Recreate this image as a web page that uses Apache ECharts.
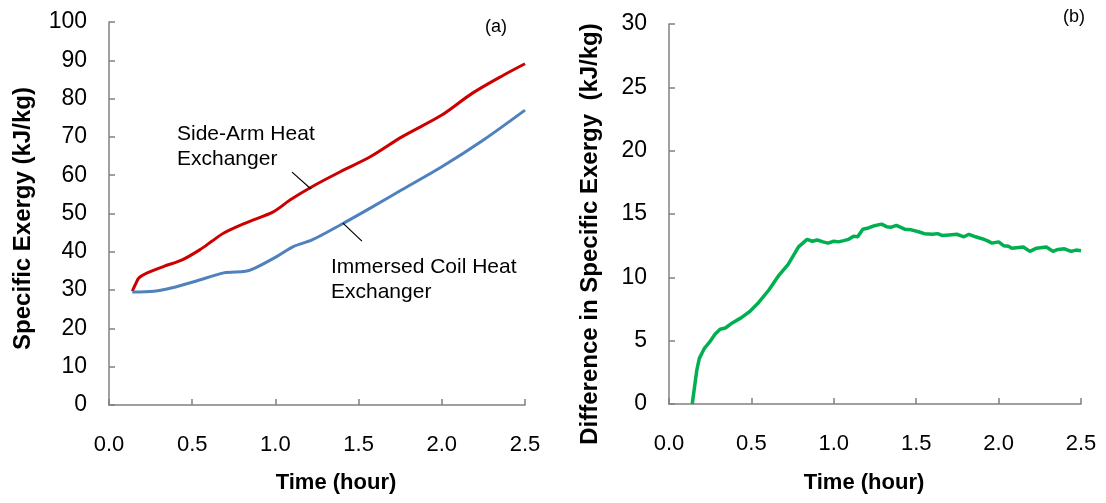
<!DOCTYPE html>
<html lang="en">
<head>
    <meta charset="UTF-8">
    <title>Specific Exergy</title>
    <script src="https://cdn.jsdelivr.net/npm/echarts@6/dist/echarts.min.js"></script>
    <style>
        body { margin: 0; background: #fff; }
        #box { width: 1106px; height: 503px; }
    </style>
</head>
<body>
<div id="box"></div>
<script>
    // x 轴刻度
    var timeTicks = [0.0, 0.5, 1.0, 1.5, 2.0, 2.5];

    // (a) Side-Arm Heat Exchanger  [时间(h), kJ/kg]
    var sideArm = [
        [0.14, 29.7], [0.16, 31.6], [0.18, 33.2], [0.23, 34.5], [0.33, 36.2], [0.44, 37.9],
        [0.545, 40.5], [0.62, 42.8], [0.69, 44.9], [0.82, 47.5], [0.99, 50.5], [1.09, 53.6],
        [1.22, 57.0], [1.39, 60.9], [1.57, 64.8], [1.76, 70.0], [2.0, 75.7], [2.18, 81.3],
        [2.37, 86.1], [2.5, 89.1]
    ];

    // (a) Immersed Coil Heat Exchanger
    var immersedCoil = [
        [0.14, 29.5], [0.27, 29.7], [0.38, 30.6], [0.52, 32.3], [0.69, 34.5], [0.82, 34.9],
        [0.88, 35.8], [1.01, 38.8], [1.11, 41.4], [1.22, 43.1], [1.39, 47.0], [1.57, 51.4],
        [1.76, 56.2], [2.0, 62.2], [2.25, 69.2], [2.5, 77.0]
    ];

    // (b) 差值
    var diffExergy = [
        [0.141, 0], [0.169, 2.7], [0.184, 3.6], [0.215, 4.4], [0.247, 4.9], [0.279, 5.5],
        [0.31, 5.9], [0.342, 6.0], [0.384, 6.4], [0.437, 6.8], [0.49, 7.3], [0.543, 8.0],
        [0.606, 9.0], [0.669, 10.2], [0.722, 11.0], [0.786, 12.4], [0.838, 13.0], [0.87, 12.85],
        [0.90, 12.95], [0.935, 12.8], [0.965, 12.7], [1.0, 12.85], [1.028, 12.8], [1.06, 12.9],
        [1.09, 13.0], [1.12, 13.25], [1.145, 13.2], [1.176, 13.8], [1.21, 13.9], [1.24, 14.05],
        [1.29, 14.2], [1.32, 14.0], [1.345, 13.95], [1.38, 14.1], [1.43, 13.8], [1.47, 13.75],
        [1.514, 13.6], [1.55, 13.45], [1.6, 13.4], [1.63, 13.45], [1.66, 13.3], [1.70, 13.35],
        [1.746, 13.4], [1.79, 13.2], [1.82, 13.4], [1.86, 13.2], [1.9, 13.05], [1.93, 12.9],
        [1.96, 12.7], [2.0, 12.8], [2.03, 12.5], [2.06, 12.45], [2.08, 12.3], [2.15, 12.4],
        [2.19, 12.05], [2.23, 12.3], [2.29, 12.4], [2.33, 12.05], [2.36, 12.2], [2.4, 12.25],
        [2.44, 12.05], [2.47, 12.15], [2.5, 12.1]
    ];

    // 标注引线 (数据坐标)
    var sideArmLeader = [[1.10, 60.8], [1.214, 56.4]];
    var immersedLeader = [[1.406, 47.5], [1.52, 42.8]];

    var FONT = "'Liberation Sans', Arial, sans-serif";
    var axisGray = '#808080';

    function xAxisOf(gridIndex, gap, pad) {
        return {
            type: 'value',
            gridIndex: gridIndex,
            min: timeTicks[0],
            max: timeTicks[timeTicks.length - 1],
            interval: 0.5,
            name: 'Time (hour)',
            nameLocation: 'middle',
            nameGap: gap,
            nameTextStyle: {fontFamily: FONT, fontSize: 22, fontWeight: 'bold', color: '#000', padding: pad},
            axisLine: {lineStyle: {color: axisGray, width: 1.5}},
            axisTick: {inside: true, length: 6, lineStyle: {color: axisGray, width: 1.5}},
            splitLine: {show: false},
            axisLabel: {
                fontFamily: FONT, fontSize: 22, color: '#000', margin: 29,
                formatter: function (v) { return v.toFixed(1); }
            }
        };
    }

    function yAxisOf(gridIndex, max, interval, name, gap, pad) {
        return {
            type: 'value',
            gridIndex: gridIndex,
            min: 0,
            max: max,
            interval: interval,
            name: name,
            nameLocation: 'middle',
            nameGap: gap,
            nameTextStyle: {fontFamily: FONT, fontSize: 24, fontWeight: 'bold', color: '#000', padding: pad},
            axisLine: {show: true, lineStyle: {color: axisGray, width: 1.5}},
            axisTick: {show: true, inside: true, length: 6, lineStyle: {color: axisGray, width: 1.5}},
            splitLine: {show: false},
            axisLabel: {fontFamily: FONT, fontSize: 23, color: '#000', margin: 22}
        };
    }

    function leader(points) {
        return {
            silent: true,
            symbol: ['none', 'none'],
            label: {show: false},
            lineStyle: {color: '#000', width: 1.2, type: 'solid'},
            data: [[{coord: points[0]}, {coord: points[1]}]]
        };
    }

    var chart = echarts.init(document.getElementById('box'));

    var option = {
        animation: false,
        backgroundColor: '#fff',
        grid: [
            {left: 109, top: 22, width: 416, height: 383},
            {left: 669, top: 24, width: 412, height: 380}
        ],
        xAxis: [xAxisOf(0, 67, [0, 0, 0, 38]), xAxisOf(1, 68, [0, 22, 0, 0])],
        yAxis: [
            yAxisOf(0, 100, 10, 'Specific Exergy (kJ/kg)', 74, [0, 10, 0, 0]),
            yAxisOf(1, 30, 5, 'Difference in Specific Exergy  (kJ/kg)', 67, [0, 40, 0, 0])
        ],
        graphic: [
            {type: 'text', left: 177, top: 122, style: {text: 'Side-Arm Heat\nExchanger', font: '21px ' + FONT, fill: '#000', lineHeight: 25}},
            {type: 'text', left: 331, top: 255, style: {text: 'Immersed Coil Heat\nExchanger', font: '21px ' + FONT, fill: '#000', lineHeight: 25}},
            {type: 'text', left: 485, top: 18, style: {text: '(a)', font: '18px ' + FONT, fill: '#000'}},
            {type: 'text', left: 1063, top: 8, style: {text: '(b)', font: '18px ' + FONT, fill: '#000'}}
        ],
        series: [
            {
                name: 'Side-Arm Heat Exchanger',
                type: 'line',
                xAxisIndex: 0, yAxisIndex: 0,
                data: sideArm,
                showSymbol: false,
                smooth: 0.3,
                lineStyle: {color: '#CC0000', width: 3},
                itemStyle: {color: '#CC0000'},
                markLine: leader(sideArmLeader)
            },
            {
                name: 'Immersed Coil Heat Exchanger',
                type: 'line',
                xAxisIndex: 0, yAxisIndex: 0,
                data: immersedCoil,
                showSymbol: false,
                smooth: 0.3,
                lineStyle: {color: '#4F81BD', width: 3},
                itemStyle: {color: '#4F81BD'},
                markLine: leader(immersedLeader)
            },
            {
                name: 'Difference',
                type: 'line',
                xAxisIndex: 1, yAxisIndex: 1,
                data: diffExergy,
                showSymbol: false,
                lineStyle: {color: '#00B050', width: 3.5},
                itemStyle: {color: '#00B050'}
            }
        ]
    };

    chart.setOption(option);
</script>
</body>
</html>
